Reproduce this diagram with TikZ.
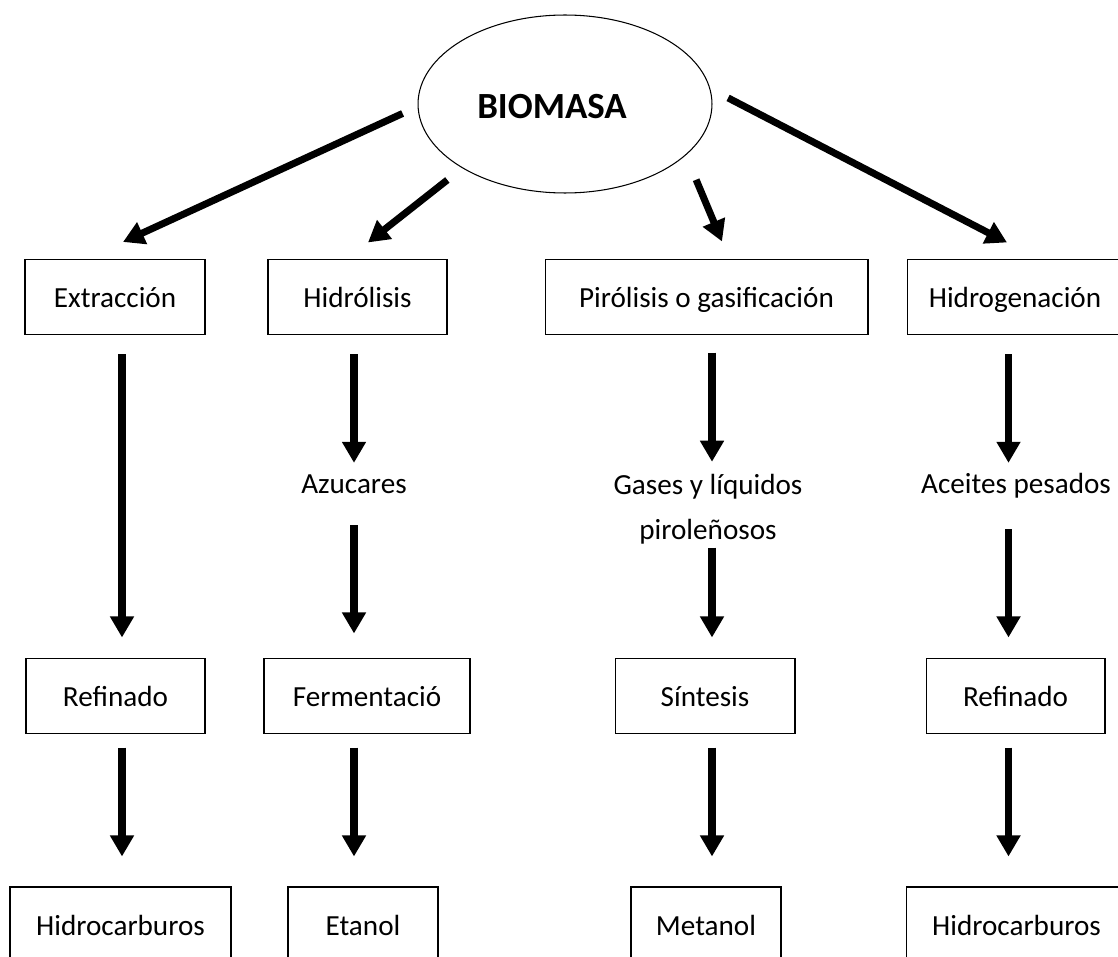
\documentclass[tikz,border=0pt]{standalone}
\usepackage{fontspec}
\setmainfont{Carlito}
\usetikzlibrary{shapes.geometric,arrows.meta}

\begin{document}
\begin{tikzpicture}[
	x=0.02cm,
	y=-0.02cm,
	caja/.style={
		rectangle,
		draw=black,
		line width=0.6pt,
		align=center,
		inner sep=0pt,
		minimum height=1.5cm,
		text height=14.5pt,
		text depth=2pt,
		font=\fontsize{16.6}{19}\selectfont
	},
	etiqueta/.style={
		align=center,
		inner sep=0pt,
		font=\fontsize{16.6}{25.5}\selectfont
	},
	linea/.style={
		etiqueta,
		text height=11pt,
		text depth=3pt
	},
	flecha/.style={
		line width=4pt,
		-{Triangle[width=13pt,length=12pt]}
	},
]

\useasboundingbox (0,0) rectangle (1118,956);

% Biomasa
\node[ellipse, draw=black, line width=0.6pt, inner sep=0pt, minimum width=5.88cm, minimum height=3.56cm,
	text height=17pt, text depth=0pt,
	font=\fontsize{21}{25}\selectfont\bfseries] (bio) at (565,104) {BIOMASA\hspace*{0.52cm}};

% Procesos
\node[caja, minimum width=3.6cm] (extr) at (115,297) {Extracción};
\node[caja, minimum width=3.58cm] (hidr) at (357.5,297) {Hidrólisis};
\node[caja, minimum width=6.46cm] (piro) at (706.5,297) {Pirólisis o gasificación};
\node[caja, minimum width=4.32cm] (hidg) at (1015,297) {Hidrogenación};

% Intermedios
\node[linea] (azuc) at (354,486) {Azucares};
\node[etiqueta] (gases) at (708,509) {Gases y líquidos\\piroleñosos};
\node[linea] (aceit) at (1016,486) {Aceites pesados};

\node[caja, minimum width=3.58cm] (ref1) at (115.5,696) {Refinado};
\node[caja, minimum width=4.12cm] (ferm) at (367,696) {Fermentació};
\node[caja, minimum width=3.6cm] (sint) at (705,696) {Síntesis};
\node[caja, minimum width=3.58cm] (ref2) at (1015.5,696) {Refinado};

% Productos
\node[caja, minimum width=4.42cm] (hc1) at (120.5,924.5) {Hidrocarburos};
\node[caja, minimum width=3cm] (etan) at (363,924.5) {Etanol};
\node[caja, minimum width=3cm] (meta) at (706,924.5) {Metanol};
\node[caja, minimum width=4.42cm] (hc2) at (1016.5,924.5) {Hidrocarburos};

% Columnas de flechas
\coordinate (c1) at (122,0);
\coordinate (c2) at (354,0);
\coordinate (c3) at (712,0);
\coordinate (c4) at (1008.5,0);

% Flechas desde la biomasa
\draw[flecha, shorten <=0.33cm] (bio.181) -- ([shift={(8,-17)}]extr.north);
\draw[flecha, shorten <=0.38cm] (bio.212) -- ([shift={(10.5,-16.5)}]hidr.north);
\draw[flecha, shorten <=0.53cm] (bio.337) -- ([shift={(15.5,-17.5)}]piro.north);
\draw[flecha, shorten <=0.4cm] (bio.6) -- ([shift={(-8,-16.5)}]hidg.north);

% Flechas verticales
\draw[flecha, shorten <=0.38cm, shorten >=0.41cm] (extr.south -| c1) -- (ref1.north -| c1);
\draw[flecha, shorten <=0.27cm, shorten >=0.6cm] (ref1.south -| c1) -- (hc1.north -| c1);

\draw[flecha, shorten <=0.38cm, shorten >=0.21cm] (hidr.south -| c2) -- (azuc.north -| c2);
\draw[flecha, shorten <=0.53cm, shorten >=0.49cm] (azuc.south -| c2) -- (ferm.north -| c2);
\draw[flecha, shorten <=0.27cm, shorten >=0.6cm] (ferm.south -| c2) -- (etan.north -| c2);

\draw[flecha, shorten <=0.35cm, shorten >=0.24cm] (piro.south -| c3) -- (gases.north -| c3);
\draw[flecha, shorten <=0.07cm, shorten >=0.41cm] (gases.south -| c3) -- (sint.north -| c3);
\draw[flecha, shorten <=0.27cm, shorten >=0.6cm] (sint.south -| c3) -- (meta.north -| c3);

\draw[flecha, shorten <=0.38cm, shorten >=0.21cm] (hidg.south -| c4) -- (aceit.north -| c4);
\draw[flecha, shorten <=0.61cm, shorten >=0.41cm] (aceit.south -| c4) -- (ref2.north -| c4);
\draw[flecha, shorten <=0.27cm, shorten >=0.6cm] (ref2.south -| c4) -- (hc2.north -| c4);

\end{tikzpicture}
\end{document}
